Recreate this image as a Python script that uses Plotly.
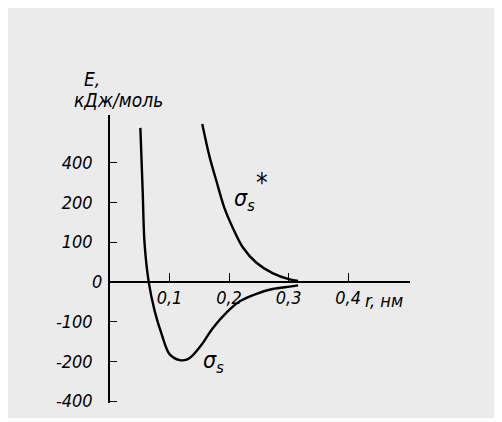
import numpy as np
import plotly.graph_objects as go

# ---- data ----
# bonding orbital sigma_s : r in nm, E in kJ/mol
r_sigma = [0.051, 0.055, 0.058, 0.065, 0.075, 0.087, 0.100, 0.117, 0.130, 0.139,
           0.155, 0.172, 0.196, 0.218, 0.246, 0.273, 0.302, 0.316]
e_sigma = [575, 248, 98, 0, -73, -133, -182, -197, -195, -185,
           -156, -118, -77, -49, -30, -18, -12, -9]
# antibonding orbital sigma_s*
r_sigma_star = [0.155, 0.167, 0.179, 0.192, 0.206, 0.223, 0.246, 0.273, 0.302, 0.316]
e_sigma_star = [595, 433, 305, 187, 137, 87, 48, 22, 6, 2]

# axis ticks (the energy axis of the original is not linear: equal spacing per tick)
y_tick_values = [-400, -200, -100, 0, 100, 200, 400]
y_tick_labels = ["-400", "-200", "-100", "0", "100", "200", "400"]
x_tick_values = [0.1, 0.2, 0.3, 0.4]
x_tick_labels = ["0,1", "0,2", "0,3", "0,4"]

tick_pos = np.arange(len(y_tick_values)) - 3  # -3 .. 3, equally spaced


def to_axis(e):
    e = np.asarray(e, dtype=float)
    pos = np.interp(e, y_tick_values, tick_pos)
    pos = np.where(e > 400, 3 + (e - 400) / 200.0, pos)
    pos = np.where(e < -400, -3 + (e + 400) / 200.0, pos)
    return pos


FONT = "Liberation Sans Narrow, DejaVu Sans Condensed, Liberation Sans, sans-serif"
line_style = dict(color="black", width=2.4, shape="spline", smoothing=0.9)

fig = go.Figure()
fig.add_trace(go.Scatter(x=r_sigma, y=to_axis(e_sigma), mode="lines",
                         line=line_style, hoverinfo="skip", showlegend=False))
fig.add_trace(go.Scatter(x=r_sigma_star, y=to_axis(e_sigma_star), mode="lines",
                         line=line_style, hoverinfo="skip", showlegend=False))

Y_MIN, Y_MAX = -3.05, 4.2
zero_paper = (0 - Y_MIN) / (Y_MAX - Y_MIN)

# zero label is drawn closer to the axis in the original -> separate annotation
y_ticktext = [("" if v == 0 else t) for v, t in zip(y_tick_values, y_tick_labels)]

# the page body has an 8px margin, so the figure is 8px smaller and shifted
fig.update_layout(
    width=494, height=414,
    margin=dict(l=102, r=92, t=107, b=19),
    paper_bgcolor="white",
    plot_bgcolor="rgba(0,0,0,0)",
    font=dict(family=FONT, color="black"),
    xaxis=dict(range=[0, 0.504], anchor="free", position=zero_paper,
               showline=True, linecolor="black", linewidth=1.5,
               ticks="inside", ticklen=8, tickwidth=1.3, tickcolor="black",
               tickvals=x_tick_values, ticktext=x_tick_labels,
               tickfont=dict(size=18, style="italic", family=FONT),
               showgrid=False, zeroline=False),
    yaxis=dict(range=[Y_MIN, Y_MAX],
               showline=True, linecolor="black", linewidth=1.5,
               ticks="inside", ticklen=7, tickwidth=1.3, tickcolor="black",
               tickvals=list(tick_pos), ticktext=y_ticktext,
               tickfont=dict(size=18, style="italic", family=FONT),
               ticklabelstandoff=12,
               showgrid=False, zeroline=False),
    shapes=[dict(type="rect", xref="paper", yref="paper",
                 x0=(4 - 110) / 300, x1=(500 - 110) / 300,
                 y0=(403 - 418) / 288, y1=(403 - 4) / 288,
                 fillcolor="#ebebeb", line=dict(width=0), layer="below")],
)

ann_font = dict(family=FONT, size=19, color="black", style="italic")
common = dict(showarrow=False, xanchor="center", yanchor="middle")
fig.add_annotation(xref="paper", yref="paper", x=(92 - 110) / 300, y=(403 - 79) / 288,
                   text="E,", font=ann_font, **common)
fig.add_annotation(xref="paper", yref="paper", x=(118 - 110) / 300, y=(403 - 100) / 288,
                   text="кДж/моль", font=ann_font, **common)
fig.add_annotation(xref="paper", yref="paper", x=(384 - 110) / 300, y=(403 - 300) / 288,
                   text="r, нм", font=dict(ann_font, size=18), **common)
fig.add_annotation(x=-0.0, y=0, xref="x", yref="y", text=y_tick_labels[3],
                   font=dict(ann_font, size=18), showarrow=False,
                   xanchor="right", yanchor="middle", xshift=-6)
fig.add_annotation(x=(244 - 110) / 595, y=(282 - 200) / 39.7, text="σ<sub>s</sub>",
                   font=dict(ann_font, size=23), **common)
fig.add_annotation(x=(262 - 110) / 595, y=(282 - 183) / 39.7, text="*",
                   font=dict(family=FONT, size=26, color="black"), **common)
fig.add_annotation(x=(213 - 110) / 595, y=(282 - 362) / 39.7, text="σ<sub>s</sub>",
                   font=dict(ann_font, size=23), **common)

fig.write_html("out.html")
